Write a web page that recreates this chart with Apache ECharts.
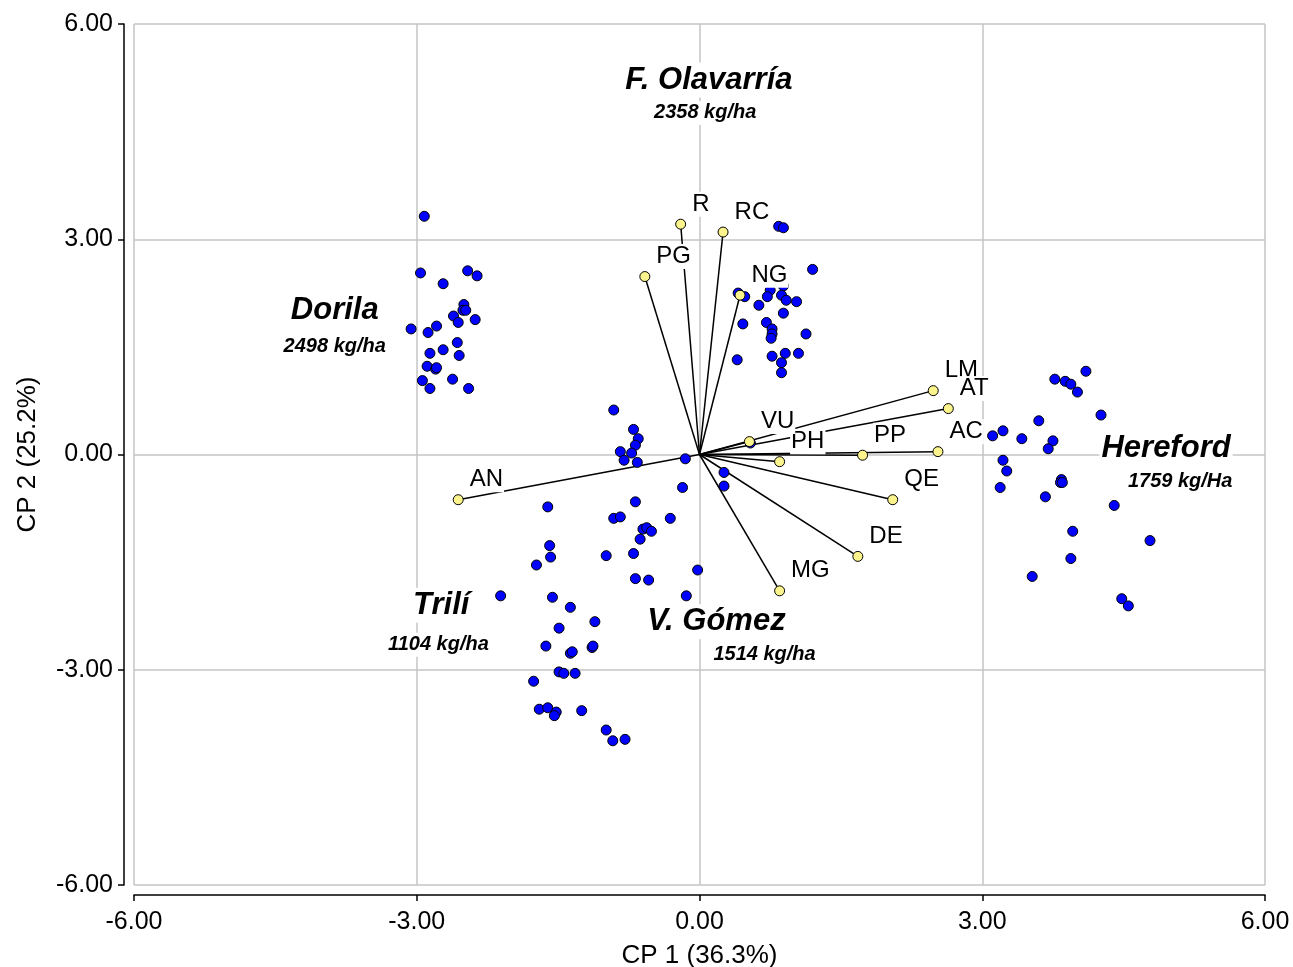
<!DOCTYPE html>
<html>
<head>
<meta charset="utf-8">
<title>Biplot CP1 vs CP2</title>
<script src="https://cdn.jsdelivr.net/npm/echarts@6/dist/echarts.min.js"></script>
<style>
  html, body { margin: 0; padding: 0; background: #fff; }
  #chart { width: 1293px; height: 967px; }
</style>
</head>
<body>
<div id="chart"></div>
<script>
// ejes
const axisTicks = [-6, -3, 0, 3, 6]
const xName = 'CP 1 (36.3%)'
const yName = 'CP 2 (25.2%)'

// variables (vectores)
const vectorNames = ['R', 'RC', 'PG', 'NG', 'LM', 'AT', 'AC', 'PP', 'PH', 'VU', 'QE', 'DE', 'MG', 'AN']
const vectorX = [-0.20, 0.25, -0.58, 0.43, 2.48, 2.64, 2.53, 1.73, 0.85, 0.53, 2.05, 1.68, 0.85, -2.56]
const vectorY = [3.21, 3.10, 2.48, 2.22, 0.89, 0.64, 0.04, -0.01, -0.10, 0.18, -0.63, -1.42, -1.90, -0.63]

// observaciones
const dorila = [
  [-2.92, 3.32], [-2.96, 2.53], [-2.46, 2.56], [-2.36, 2.49], [-2.72, 2.38],
  [-2.50, 2.09], [-2.51, 2.01], [-2.48, 2.01], [-2.61, 1.93], [-2.56, 1.84],
  [-2.38, 1.88], [-3.06, 1.75], [-2.79, 1.79], [-2.88, 1.70], [-2.57, 1.56],
  [-2.86, 1.41], [-2.72, 1.46], [-2.55, 1.38], [-2.89, 1.23], [-2.80, 1.19],
  [-2.79, 1.21], [-2.94, 1.03], [-2.62, 1.05], [-2.86, 0.92], [-2.45, 0.92]
]
const olavarria = [
  [0.84, 3.18], [0.89, 3.16], [1.20, 2.58], [0.41, 2.25], [0.48, 2.20],
  [0.75, 2.29], [0.89, 2.35], [0.72, 2.20], [0.87, 2.22], [0.92, 2.15],
  [1.03, 2.13], [0.63, 2.08], [0.89, 1.97], [0.46, 1.82], [0.71, 1.84],
  [0.77, 1.75], [0.77, 1.68], [0.76, 1.62], [1.13, 1.68], [0.40, 1.32],
  [0.77, 1.37], [0.91, 1.41], [1.05, 1.41], [0.87, 1.28], [0.87, 1.14]
]
const gomez = [
  [-0.91, 0.62], [-0.70, 0.35], [-0.65, 0.22], [-0.68, 0.13], [-0.84, 0.04],
  [-0.72, 0.02], [-0.80, -0.08], [-0.66, -0.11], [-0.15, -0.06], [0.54, 0.16],
  [0.26, -0.25], [0.26, -0.44], [-0.18, -0.46], [-0.68, -0.66], [-0.91, -0.89],
  [-0.84, -0.87], [-0.31, -0.89], [-0.60, -1.04], [-0.56, -1.02], [-0.51, -1.07],
  [-0.63, -1.18], [-0.99, -1.41], [-0.70, -1.38], [-0.02, -1.61], [-0.68, -1.73],
  [-0.54, -1.75], [-0.14, -1.97]
]
const trili = [
  [-1.61, -0.73], [-1.59, -1.27], [-1.58, -1.43], [-1.73, -1.54], [-2.11, -1.97],
  [-1.56, -1.99], [-1.37, -2.13], [-1.11, -2.33], [-1.49, -2.42], [-1.63, -2.67],
  [-1.37, -2.77], [-1.35, -2.75], [-1.14, -2.69], [-1.13, -2.67], [-1.49, -3.03],
  [-1.44, -3.05], [-1.32, -3.05], [-1.76, -3.16], [-1.70, -3.55], [-1.61, -3.53],
  [-1.52, -3.59], [-1.54, -3.64], [-1.25, -3.57], [-0.99, -3.84], [-0.92, -3.99],
  [-0.79, -3.97]
]
const hereford = [
  [4.10, 1.16], [3.77, 1.05], [3.88, 1.02], [3.94, 0.98], [4.01, 0.87],
  [4.26, 0.55], [3.60, 0.47], [3.11, 0.26], [3.22, 0.33], [3.42, 0.22],
  [3.75, 0.19], [3.70, 0.08], [3.22, -0.08], [3.26, -0.23], [3.19, -0.46],
  [3.84, -0.35], [3.83, -0.39], [3.85, -0.39], [3.67, -0.59], [4.40, -0.71],
  [3.96, -1.07], [4.78, -1.20], [3.94, -1.45], [3.53, -1.70], [4.48, -2.01],
  [4.55, -2.11]
]

// rotulos de grupos
const groupNames = ['F. Olavarría', 'Dorila', 'Hereford', 'Trilí', 'V. Gómez']
const groupPos = [[0.10, 5.22], [-3.87, 2.01], [4.95, 0.09], [-2.74, -2.10], [0.18, -2.33]]
const groupYield = ['2358 kg/ha', '2498 kg/ha', '1759 kg/Ha', '1104 kg/ha', '1514 kg/ha']
const yieldPos = [[0.06, 4.76], [-3.87, 1.51], [5.10, -0.37], [-2.77, -2.65], [0.69, -2.79]]

const FONT = "'Liberation Sans', Arial, Helvetica, sans-serif"

const chart = echarts.init(document.getElementById('chart'), null, { renderer: 'canvas' })

const points = [...dorila, ...olavarria, ...gomez, ...trili, ...hereford]

const makeAxis = (name, isX) => ({
  type: 'value',
  min: -6,
  max: 6,
  interval: 3,
  offset: 10,
  name: name,
  nameLocation: 'middle',
  nameGap: isX ? 48 : 83,
  nameTextStyle: { fontFamily: FONT, fontSize: 26, color: '#000' },
  axisLine: { show: true, onZero: false, lineStyle: { color: '#000', width: 1.5 } },
  axisTick: { show: true, length: 6, lineStyle: { color: '#000', width: 1.5 } },
  axisLabel: {
    fontFamily: FONT,
    fontSize: 25,
    color: '#000',
    margin: isX ? 15 : 11,
    formatter: (v) => v.toFixed(2),
  },
  splitLine: { show: true, lineStyle: { color: '#c4c4c4', width: 1.5 } },
})

// etiqueta de texto comun
const textLabel = (size, bold) => ({
  show: true,
  position: 'inside',
  formatter: (p) => p.name,
  fontFamily: FONT,
  fontSize: size,
  fontWeight: bold ? 'bold' : 'normal',
  fontStyle: 'italic',
  color: '#000',
  opacity: 1,
  backgroundColor: '#fff',
  padding: [2, 2],
})

const option = {
  animation: false,
  backgroundColor: '#fff',
  grid: {
    left: 134, right: 28, top: 24, bottom: 82,
    containLabel: false,
    outerBoundsMode: 'none',
  },
  xAxis: makeAxis(xName, true),
  yAxis: makeAxis(yName, false),
  series: [
    {
      name: 'vectores',
      type: 'lines',
      coordinateSystem: 'cartesian2d',
      silent: true,
      z: 2,
      lineStyle: { color: '#000', width: 1.5, opacity: 1, curveness: 0 },
      data: vectorNames.map((n, i) => ({ coords: [[0, 0], [vectorX[i], vectorY[i]]] })),
    },
    {
      name: 'observaciones',
      type: 'scatter',
      z: 3,
      symbol: 'circle',
      symbolSize: 10,
      itemStyle: { color: '#0000ff', borderColor: '#000', borderWidth: 1, opacity: 1 },
      data: points,
    },
    {
      name: 'variables',
      type: 'scatter',
      z: 4,
      symbol: 'circle',
      symbolSize: 10,
      itemStyle: { color: '#fbf48c', borderColor: '#000', borderWidth: 1, opacity: 1 },
      label: {
        show: true,
        position: 'right',
        distance: 5,
        offset: [0, -20],
        formatter: (p) => p.name,
        fontFamily: FONT,
        fontSize: 24,
        color: '#000',
        opacity: 1,
        backgroundColor: '#fff',
        padding: [1, 1, 0, 1],
      },
      data: vectorNames.map((n, i) => ({ name: n, value: [vectorX[i], vectorY[i]] })),
    },
    {
      name: 'grupos',
      type: 'scatter',
      z: 5,
      symbolSize: 0,
      silent: true,
      itemStyle: { opacity: 1 },
      label: textLabel(31, true),
      data: groupNames.map((n, i) => ({ name: n, value: groupPos[i] })),
    },
    {
      name: 'rendimiento',
      type: 'scatter',
      z: 5,
      symbolSize: 0,
      silent: true,
      itemStyle: { opacity: 1 },
      label: textLabel(20, true),
      data: groupYield.map((n, i) => ({ name: n, value: yieldPos[i] })),
    },
  ],
}

chart.setOption(option)
</script>
</body>
</html>
